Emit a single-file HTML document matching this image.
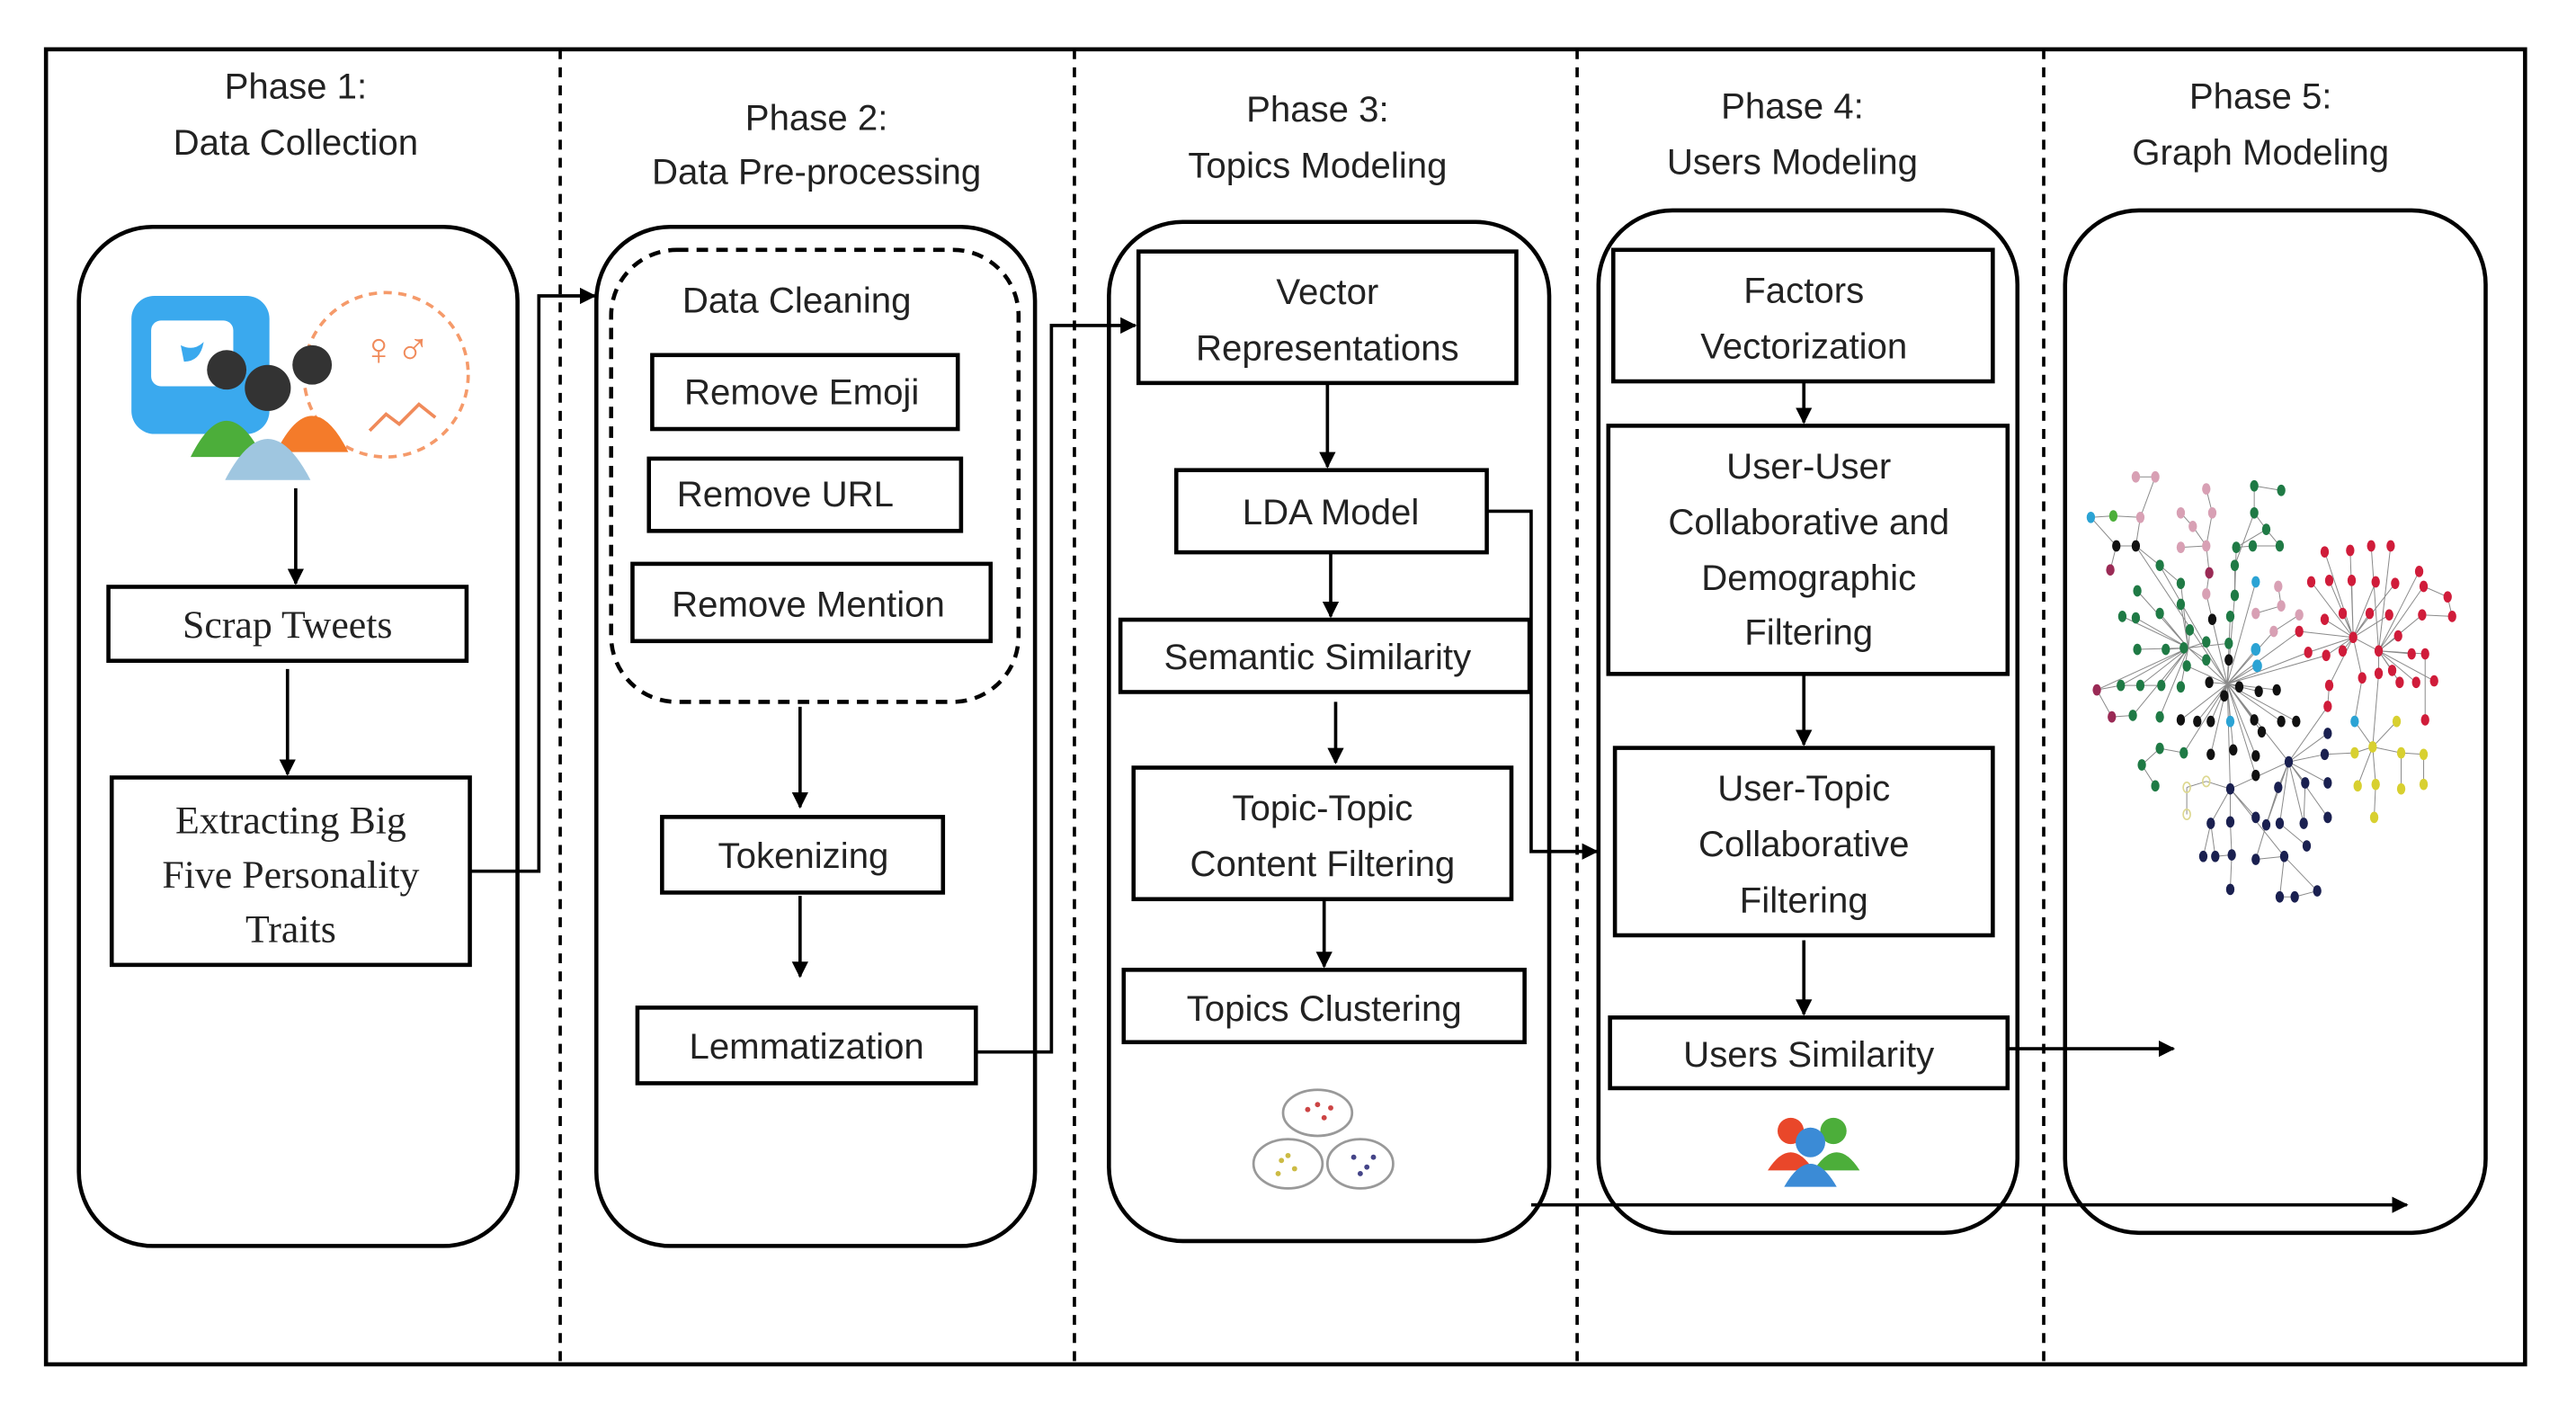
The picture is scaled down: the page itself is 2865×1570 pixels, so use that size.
<!DOCTYPE html>
<html><head><meta charset="utf-8"><style>
html,body{margin:0;padding:0;background:#fff;}
svg{display:block;}
text{font-family:"Liberation Sans",sans-serif;fill:#222;}
.t{font-size:22px;text-anchor:middle;}
.s{font-family:"Liberation Serif",serif;font-size:24px;text-anchor:middle;}
</style></head><body>
<svg width="2865" height="1570" viewBox="0 0 1568 859" preserveAspectRatio="none" xmlns="http://www.w3.org/2000/svg">
<defs><marker id="a" markerWidth="10" markerHeight="10" refX="9" refY="5" orient="auto" markerUnits="userSpaceOnUse"><path d="M0,0 L10,5 L0,10 z" fill="#000"/></marker></defs>
<rect x="0" y="0" width="1568" height="859" fill="#fff"/>
<rect x="28" y="30" width="1509" height="800" fill="none" stroke="#000" stroke-width="2.5"/>
<g stroke="#000" stroke-width="2" stroke-dasharray="6,5">
<line x1="341" y1="30" x2="341" y2="830"/><line x1="654" y1="30" x2="654" y2="830"/>
<line x1="960" y1="30" x2="960" y2="830"/><line x1="1244" y1="30" x2="1244" y2="830"/>
</g>
<text class="t" x="180" y="60">Phase 1:</text><text class="t" x="180" y="94">Data Collection</text>
<text class="t" x="497" y="79">Phase 2:</text><text class="t" x="497" y="112">Data Pre-processing</text>
<text class="t" x="802" y="74">Phase 3:</text><text class="t" x="802" y="108">Topics Modeling</text>
<text class="t" x="1091" y="72">Phase 4:</text><text class="t" x="1091" y="106">Users Modeling</text>
<text class="t" x="1376" y="66">Phase 5:</text><text class="t" x="1376" y="100">Graph Modeling</text>
<g fill="none" stroke="#000" stroke-width="2.5">
<rect x="48" y="138" width="267" height="620" rx="45"/>
<rect x="363" y="138" width="267" height="620" rx="45"/>
<rect x="675" y="135" width="268" height="620" rx="45"/>
<rect x="973" y="128" width="255" height="622" rx="45"/>
<rect x="1257" y="128" width="256" height="622" rx="45"/>
<rect x="372" y="152" width="248" height="275" rx="40" stroke-dasharray="7,5"/>
<rect x="66" y="357" width="218" height="45"/>
<rect x="68" y="473" width="218" height="114"/>
<rect x="397" y="216" width="186" height="45"/>
<rect x="395" y="279" width="190" height="44"/>
<rect x="385" y="343" width="218" height="47"/>
<rect x="403" y="497" width="171" height="46"/>
<rect x="388" y="613" width="206" height="46"/>
<rect x="693" y="153" width="230" height="80"/>
<rect x="716" y="286" width="189" height="50"/>
<rect x="682" y="377" width="249" height="44"/>
<rect x="690" y="467" width="230" height="80"/>
<rect x="684" y="590" width="244" height="44"/>
<rect x="982" y="152" width="231" height="80"/>
<rect x="979" y="259" width="243" height="151"/>
<rect x="983" y="455" width="230" height="114"/>
<rect x="980" y="619" width="242" height="43"/>
</g>
<g stroke="#000" stroke-width="2" fill="none" marker-end="url(#a)">
<line x1="180" y1="297" x2="180" y2="355"/>
<line x1="175" y1="407" x2="175" y2="471"/>
<polyline points="286,530 328,530 328,180 362,180"/>
<line x1="487" y1="430" x2="487" y2="491"/>
<line x1="487" y1="545" x2="487" y2="594"/>
<polyline points="594,640 640,640 640,198 691,198"/>
<line x1="808" y1="233" x2="808" y2="284"/>
<line x1="810" y1="336" x2="810" y2="375"/>
<line x1="813" y1="427" x2="813" y2="464"/>
<line x1="806" y1="547" x2="806" y2="588"/>
<polyline points="905,311 932,311 932,518 972,518"/>
<line x1="1098" y1="232" x2="1098" y2="257"/>
<line x1="1098" y1="410" x2="1098" y2="453"/>
<line x1="1098" y1="572" x2="1098" y2="617"/>
<line x1="1222" y1="638" x2="1323" y2="638"/>
<line x1="932" y1="733" x2="1465" y2="733"/>
</g>
<text class="s" x="175" y="388">Scrap Tweets</text>
<text class="s" x="177" y="507">Extracting Big</text>
<text class="s" x="177" y="540">Five Personality</text>
<text class="s" x="177" y="573">Traits</text>
<text class="t" x="485" y="190">Data Cleaning</text>
<text class="t" x="488" y="246">Remove Emoji</text>
<text class="t" x="478" y="308">Remove URL</text>
<text class="t" x="492" y="375">Remove Mention</text>
<text class="t" x="489" y="528">Tokenizing</text>
<text class="t" x="491" y="644">Lemmatization</text>
<text class="t" x="808" y="185">Vector</text><text class="t" x="808" y="219">Representations</text>
<text class="t" x="810" y="319">LDA Model</text>
<text class="t" x="802" y="407">Semantic Similarity</text>
<text class="t" x="805" y="499">Topic-Topic</text><text class="t" x="805" y="533">Content Filtering</text>
<text class="t" x="806" y="621">Topics Clustering</text>
<text class="t" x="1098" y="184">Factors</text><text class="t" x="1098" y="218">Vectorization</text>
<text class="t" x="1101" y="291">User-User</text><text class="t" x="1101" y="325">Collaborative and</text>
<text class="t" x="1101" y="359">Demographic</text><text class="t" x="1101" y="392">Filtering</text>
<text class="t" x="1098" y="487">User-Topic</text><text class="t" x="1098" y="521">Collaborative</text><text class="t" x="1098" y="555">Filtering</text>
<text class="t" x="1101" y="649">Users Similarity</text>
<!-- phase 1 icon -->
<rect x="80" y="180" width="84" height="84" rx="14" fill="#3aa9ee"/>
<rect x="92" y="195" width="50" height="40" rx="6" fill="#fff"/>
<path d="M110,210 q8,4 14,-2 q-2,12 -12,12 z" fill="#3aa9ee"/>
<circle cx="235" cy="228" r="50" fill="none" stroke="#f59a6a" stroke-width="2" stroke-dasharray="5,4"/>
<text x="220" y="222" style="font-size:28px;fill:#f08a5a">♀♂</text>
<path d="M225,262 l10,-10 l8,6 l12,-12 l10,8" fill="none" stroke="#f08a5a" stroke-width="2"/>
<circle cx="190" cy="222" r="12" fill="#333"/><path d="M168,275 q22,-44 44,0 z" fill="#f47b2a"/>
<circle cx="138" cy="225" r="12" fill="#333"/><path d="M116,278 q22,-44 44,0 z" fill="#4cae3a"/>
<circle cx="163" cy="236" r="14" fill="#333"/><path d="M137,292 q26,-50 52,0 z" fill="#9fc6e0"/>
<!-- cluster icon -->
<g fill="none" stroke="#999" stroke-width="1.5"><ellipse cx="802" cy="677" rx="21" ry="14"/><ellipse cx="784" cy="708" rx="21" ry="15"/><ellipse cx="828" cy="708" rx="20" ry="15"/></g>
<g fill="#c44"><circle cx="796" cy="675" r="1.6"/><circle cx="806" cy="680" r="1.6"/><circle cx="802" cy="672" r="1.6"/><circle cx="810" cy="674" r="1.6"/></g>
<g fill="#cb4"><circle cx="780" cy="706" r="1.6"/><circle cx="788" cy="711" r="1.6"/><circle cx="784" cy="703" r="1.6"/><circle cx="778" cy="714" r="1.6"/></g>
<g fill="#448"><circle cx="824" cy="704" r="1.6"/><circle cx="832" cy="710" r="1.6"/><circle cx="828" cy="714" r="1.6"/><circle cx="836" cy="704" r="1.6"/></g>
<!-- users icon -->
<circle cx="1090" cy="688" r="8" fill="#e9472a"/><circle cx="1116" cy="688" r="8" fill="#4cae3a"/>
<path d="M1076,712 q14,-22 28,0 z" fill="#e9472a"/><path d="M1104,712 q14,-22 28,0 z" fill="#4cae3a"/>
<circle cx="1102" cy="695" r="9" fill="#3b8bd6"/><path d="M1086,722 q16,-28 32,0 z" fill="#3b8bd6"/>
<!-- network (zoom coords) -->
<g transform="translate(1259,273.7) scale(0.1825)">
<g stroke="#8a8a8a" stroke-width="3" fill="none">
<path d="M530 780 L480 565 M530 780 L535 700 M530 780 L470 775 M530 780 L570 790 M530 780 L520 820 M530 780 L635 805 M530 780 L375 900 M530 780 L430 905 M530 780 L475 905 M530 780 L620 900 M530 780 L645 940 M530 780 L475 1015 M530 780 L550 1000 M530 780 L625 1020 M530 780 L540 905 M530 780 L625 665 M530 780 L630 720 M530 780 L685 605 M530 780 L770 605 M530 780 L800 675 M530 780 L400 660 M530 780 L395 720 M530 780 L305 385 M530 780 L460 480 M530 780 L555 485 M530 780 L540 555 M530 780 L225 320 M530 780 L385 1010 M530 780 L540 1130 M530 780 L735 1040 M530 780 L860 685 M530 780 L625 440 M530 780 L710 905 M530 780 L760 905 M530 780 L695 800 M530 780 L625 1085"/>
<path d="M400 660 L305 545 M400 660 L230 665 M400 660 L325 665 M400 660 L385 660 M400 660 L460 640 M400 660 L535 645 M400 660 L405 600 M400 660 L375 515 M400 660 L375 445 M400 660 L230 470 M400 660 L180 555 M400 660 L225 560 M400 660 L175 785 M400 660 L240 785 M400 660 L310 785 M400 660 L375 790 M400 660 L460 700 M400 660 L215 885 M400 660 L305 890 M400 660 L95 800 M305 995 L385 1010 M245 1050 L305 995 M290 1120 L245 1050 M95 800 L175 785 M95 800 L145 890 M145 890 L215 885 M175 785 L240 785 M240 785 L310 785"/>
<path d="M555 485 L560 325 M555 485 L555 385 M560 325 L615 320 M615 320 L705 320 M620 210 L620 120 M620 210 L660 265 M660 265 L705 320 M620 120 L710 135 M620 210 L555 385 M660 265 L560 325"/>
<path d="M160 320 L225 320 M160 320 L75 225 M160 320 L140 400 M225 320 L240 225 M75 225 L150 220 M150 220 L240 225 M225 320 L305 385 M305 385 L375 445 M240 225 L290 90 M225 90 L290 90 M375 210 L415 255 M415 255 L460 320 M460 130 L480 210 M480 210 L460 320 M375 325 L460 320 M460 320 L470 410 M470 410 L460 480 M700 455 L710 520 M625 545 L710 520 M685 605 L770 550"/>
<path d="M950 625 L855 565 M950 625 L915 545 M950 625 L1005 545 M950 625 L1070 550 M950 625 L870 435 M950 625 L945 435 M950 625 L1025 440 M950 625 L1090 445 M950 625 L800 675 M950 625 L860 685 M950 625 L915 670 M950 625 L1035 670 M950 625 L980 760 M950 625 L870 785 M950 625 L770 605 M950 625 L810 440 M950 625 L855 340 M950 625 L940 335"/>
<path d="M1035 670 L1100 620 M1035 670 L1145 680 M1035 670 L1190 680 M1035 670 L1035 745 M1035 670 L1080 735 M1035 670 L1105 775 M1035 670 L1160 775 M1035 670 L1220 770 M1035 670 L1180 550 M1035 670 L1170 405 M1035 670 L1185 455 M1035 670 L1010 320 M1035 670 L1075 320 M1180 550 L1280 555 M1265 490 L1280 555 M1185 455 L1265 490 M1190 680 L1190 900 M870 785 L865 855 M865 855 L735 1040 M980 760 L955 905 M1035 745 L1015 990"/>
<path d="M1015 990 L955 1010 M1015 990 L1110 1010 M1015 990 L1095 905 M1015 990 L965 1120 M1015 990 L1025 1115 M1110 1010 L1185 1015 M1110 1010 L1110 1130 M1185 1015 L1185 1115 M1025 1115 L1020 1225 M955 905 L1015 990 M855 1015 L955 1010 M395 1125 L460 1105 M395 1125 L395 1215 M460 1105 L540 1130"/>
<path d="M735 1040 L865 945 M735 1040 L855 1015 M735 1040 L790 1110 M735 1040 L700 1125 M735 1040 L865 1110 M735 1040 L660 1250 M735 1040 L705 1245 M735 1040 L785 1245 M735 1040 L865 1225 M735 1040 L540 1130 M540 1130 L475 1245 M540 1130 L540 1240 M540 1130 L625 1225 M540 1130 L720 1355 M475 1245 L450 1355 M475 1245 L490 1355 M540 1240 L545 1350 M545 1350 L540 1465 M625 1365 L720 1355 M720 1355 L705 1490 M705 1490 L755 1490 M755 1490 L830 1470 M720 1355 L830 1470 M705 1245 L795 1320 M660 1250 L625 1365 M490 1355 L545 1350 M700 1125 L660 1250 M790 1110 L785 1245"/>
</g>
<g fill="#d8a0b4"><ellipse cx="225" cy="90" rx="14" ry="19"/><ellipse cx="290" cy="90" rx="14" ry="19"/><ellipse cx="240" cy="225" rx="14" ry="19"/><ellipse cx="375" cy="210" rx="14" ry="19"/><ellipse cx="415" cy="255" rx="14" ry="19"/><ellipse cx="460" cy="130" rx="14" ry="19"/><ellipse cx="480" cy="210" rx="14" ry="19"/><ellipse cx="375" cy="325" rx="14" ry="19"/><ellipse cx="460" cy="320" rx="14" ry="19"/><ellipse cx="460" cy="480" rx="14" ry="19"/><ellipse cx="700" cy="455" rx="14" ry="19"/><ellipse cx="710" cy="520" rx="14" ry="19"/><ellipse cx="625" cy="545" rx="14" ry="19"/><ellipse cx="685" cy="605" rx="14" ry="19"/><ellipse cx="770" cy="550" rx="14" ry="19"/></g>
<g fill="#2ba3d4"><ellipse cx="75" cy="225" rx="14" ry="19"/><ellipse cx="625" cy="440" rx="14" ry="19"/><ellipse cx="625" cy="665" rx="16" ry="21"/><ellipse cx="630" cy="720" rx="16" ry="21"/><ellipse cx="540" cy="905" rx="14" ry="19"/><ellipse cx="955" cy="905" rx="14" ry="19"/></g>
<ellipse cx="150" cy="220" rx="14" ry="19" fill="#4caf3a"/>
<g fill="#111"><ellipse cx="160" cy="320" rx="14" ry="19"/><ellipse cx="225" cy="320" rx="14" ry="19"/><ellipse cx="480" cy="565" rx="14" ry="19"/><ellipse cx="535" cy="700" rx="14" ry="19"/><ellipse cx="470" cy="775" rx="14" ry="19"/><ellipse cx="570" cy="790" rx="14" ry="19"/><ellipse cx="520" cy="820" rx="14" ry="19"/><ellipse cx="635" cy="805" rx="14" ry="19"/><ellipse cx="695" cy="800" rx="14" ry="19"/><ellipse cx="375" cy="900" rx="14" ry="19"/><ellipse cx="430" cy="905" rx="14" ry="19"/><ellipse cx="475" cy="905" rx="14" ry="19"/><ellipse cx="620" cy="900" rx="14" ry="19"/><ellipse cx="710" cy="905" rx="14" ry="19"/><ellipse cx="760" cy="905" rx="14" ry="19"/><ellipse cx="645" cy="940" rx="14" ry="19"/><ellipse cx="475" cy="1015" rx="14" ry="19"/><ellipse cx="550" cy="1000" rx="14" ry="19"/><ellipse cx="625" cy="1020" rx="14" ry="19"/><ellipse cx="625" cy="1085" rx="14" ry="19"/></g>
<g fill="#9a2a55"><ellipse cx="140" cy="400" rx="14" ry="19"/><ellipse cx="470" cy="410" rx="14" ry="19"/><ellipse cx="95" cy="800" rx="14" ry="19"/><ellipse cx="145" cy="890" rx="14" ry="19"/></g>
<g fill="#1f7a45"><ellipse cx="620" cy="120" rx="14" ry="19"/><ellipse cx="710" cy="135" rx="14" ry="19"/><ellipse cx="620" cy="210" rx="14" ry="19"/><ellipse cx="660" cy="265" rx="14" ry="19"/><ellipse cx="560" cy="325" rx="14" ry="19"/><ellipse cx="615" cy="320" rx="14" ry="19"/><ellipse cx="705" cy="320" rx="14" ry="19"/><ellipse cx="305" cy="385" rx="14" ry="19"/><ellipse cx="555" cy="385" rx="14" ry="19"/><ellipse cx="375" cy="445" rx="14" ry="19"/><ellipse cx="230" cy="470" rx="14" ry="19"/><ellipse cx="555" cy="485" rx="14" ry="19"/><ellipse cx="375" cy="515" rx="14" ry="19"/><ellipse cx="180" cy="555" rx="14" ry="19"/><ellipse cx="225" cy="560" rx="14" ry="19"/><ellipse cx="305" cy="545" rx="14" ry="19"/><ellipse cx="540" cy="555" rx="14" ry="19"/><ellipse cx="405" cy="600" rx="14" ry="19"/><ellipse cx="230" cy="665" rx="14" ry="19"/><ellipse cx="325" cy="665" rx="14" ry="19"/><ellipse cx="385" cy="660" rx="14" ry="19"/><ellipse cx="460" cy="640" rx="14" ry="19"/><ellipse cx="535" cy="645" rx="14" ry="19"/><ellipse cx="395" cy="720" rx="14" ry="19"/><ellipse cx="460" cy="700" rx="14" ry="19"/><ellipse cx="175" cy="785" rx="14" ry="19"/><ellipse cx="240" cy="785" rx="14" ry="19"/><ellipse cx="310" cy="785" rx="14" ry="19"/><ellipse cx="375" cy="790" rx="14" ry="19"/><ellipse cx="215" cy="885" rx="14" ry="19"/><ellipse cx="305" cy="890" rx="14" ry="19"/><ellipse cx="305" cy="995" rx="14" ry="19"/><ellipse cx="385" cy="1010" rx="14" ry="19"/><ellipse cx="245" cy="1050" rx="14" ry="19"/><ellipse cx="290" cy="1120" rx="14" ry="19"/></g>
<g fill="#d01c3a"><ellipse cx="855" cy="340" rx="14" ry="19"/><ellipse cx="940" cy="335" rx="14" ry="19"/><ellipse cx="1010" cy="320" rx="14" ry="19"/><ellipse cx="1075" cy="320" rx="14" ry="19"/><ellipse cx="810" cy="440" rx="14" ry="19"/><ellipse cx="870" cy="435" rx="14" ry="19"/><ellipse cx="945" cy="435" rx="14" ry="19"/><ellipse cx="1025" cy="440" rx="14" ry="19"/><ellipse cx="1090" cy="445" rx="14" ry="19"/><ellipse cx="1170" cy="405" rx="14" ry="19"/><ellipse cx="1185" cy="455" rx="14" ry="19"/><ellipse cx="1265" cy="490" rx="14" ry="19"/><ellipse cx="1280" cy="555" rx="14" ry="19"/><ellipse cx="855" cy="565" rx="14" ry="19"/><ellipse cx="915" cy="545" rx="14" ry="19"/><ellipse cx="1005" cy="545" rx="14" ry="19"/><ellipse cx="1070" cy="550" rx="14" ry="19"/><ellipse cx="1180" cy="550" rx="14" ry="19"/><ellipse cx="770" cy="605" rx="14" ry="19"/><ellipse cx="950" cy="625" rx="14" ry="19"/><ellipse cx="1100" cy="620" rx="14" ry="19"/><ellipse cx="800" cy="675" rx="14" ry="19"/><ellipse cx="860" cy="685" rx="14" ry="19"/><ellipse cx="915" cy="670" rx="14" ry="19"/><ellipse cx="1035" cy="670" rx="14" ry="19"/><ellipse cx="1145" cy="680" rx="14" ry="19"/><ellipse cx="1190" cy="680" rx="14" ry="19"/><ellipse cx="980" cy="760" rx="14" ry="19"/><ellipse cx="1035" cy="745" rx="14" ry="19"/><ellipse cx="1080" cy="735" rx="14" ry="19"/><ellipse cx="1105" cy="775" rx="14" ry="19"/><ellipse cx="1160" cy="775" rx="14" ry="19"/><ellipse cx="1220" cy="770" rx="14" ry="19"/><ellipse cx="870" cy="785" rx="14" ry="19"/><ellipse cx="865" cy="855" rx="14" ry="19"/><ellipse cx="1190" cy="900" rx="14" ry="19"/></g>
<g fill="#d8d030"><ellipse cx="1095" cy="905" rx="14" ry="19"/><ellipse cx="955" cy="1010" rx="14" ry="19"/><ellipse cx="1015" cy="990" rx="14" ry="19"/><ellipse cx="1110" cy="1010" rx="14" ry="19"/><ellipse cx="1185" cy="1015" rx="14" ry="19"/><ellipse cx="965" cy="1120" rx="14" ry="19"/><ellipse cx="1025" cy="1115" rx="14" ry="19"/><ellipse cx="1110" cy="1130" rx="14" ry="19"/><ellipse cx="1185" cy="1115" rx="14" ry="19"/><ellipse cx="1020" cy="1225" rx="14" ry="19"/></g>
<g fill="none" stroke="#ddd890" stroke-width="5"><ellipse cx="395" cy="1125" rx="12" ry="17"/><ellipse cx="460" cy="1105" rx="12" ry="17"/><ellipse cx="395" cy="1215" rx="12" ry="17"/></g>
<g fill="#1a2050"><ellipse cx="865" cy="945" rx="14" ry="19"/><ellipse cx="855" cy="1015" rx="14" ry="19"/><ellipse cx="735" cy="1040" rx="14" ry="19"/><ellipse cx="790" cy="1110" rx="14" ry="19"/><ellipse cx="700" cy="1125" rx="14" ry="19"/><ellipse cx="865" cy="1110" rx="14" ry="19"/><ellipse cx="540" cy="1130" rx="14" ry="19"/><ellipse cx="475" cy="1245" rx="14" ry="19"/><ellipse cx="540" cy="1240" rx="14" ry="19"/><ellipse cx="625" cy="1225" rx="14" ry="19"/><ellipse cx="660" cy="1250" rx="14" ry="19"/><ellipse cx="705" cy="1245" rx="14" ry="19"/><ellipse cx="785" cy="1245" rx="14" ry="19"/><ellipse cx="865" cy="1225" rx="14" ry="19"/><ellipse cx="450" cy="1355" rx="14" ry="19"/><ellipse cx="490" cy="1355" rx="14" ry="19"/><ellipse cx="545" cy="1350" rx="14" ry="19"/><ellipse cx="625" cy="1365" rx="14" ry="19"/><ellipse cx="720" cy="1355" rx="14" ry="19"/><ellipse cx="795" cy="1320" rx="14" ry="19"/><ellipse cx="540" cy="1465" rx="14" ry="19"/><ellipse cx="705" cy="1490" rx="14" ry="19"/><ellipse cx="755" cy="1490" rx="14" ry="19"/><ellipse cx="830" cy="1470" rx="14" ry="19"/></g>
</g>
</svg>
</body></html>
